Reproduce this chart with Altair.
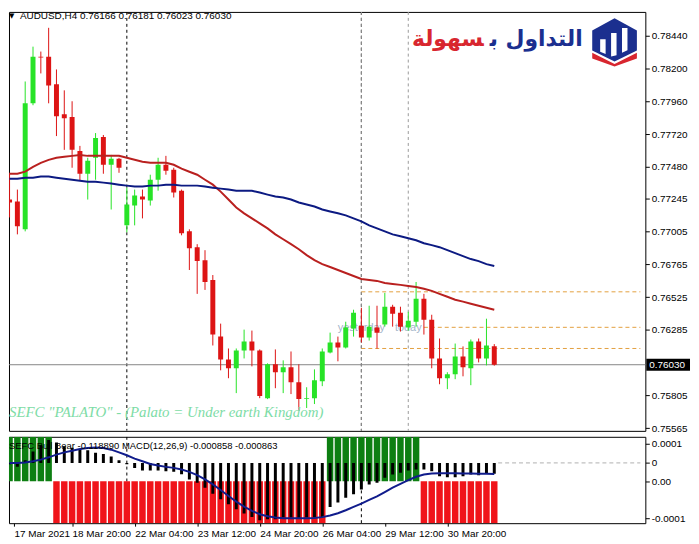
import altair as alt
import pandas as pd

# ---------------- data ----------------
bars = list(range(63))
opens = [0.77240, 0.77225, 0.77022, 0.77945, 0.78287, 0.78287, 0.78084, 0.77865, 0.77844, 0.77596,
         0.77429, 0.77546, 0.77698, 0.77495, 0.77538, 0.77051, 0.77196, 0.77262, 0.77233, 0.77385,
         0.77495, 0.77458, 0.77305, 0.77007, 0.76891, 0.76796, 0.76651, 0.76236, 0.76069, 0.76004,
         0.76135, 0.76200, 0.76135, 0.75785, 0.76033, 0.75975, 0.76011, 0.75902, 0.75778, 0.75785,
         0.75909, 0.76120, 0.76193, 0.76156, 0.76295, 0.76316, 0.76229, 0.76302, 0.76324, 0.76455,
         0.76411, 0.76302, 0.76345, 0.76513, 0.76360, 0.76076, 0.75931, 0.75960, 0.76091, 0.76004,
         0.76200, 0.76076, 0.76166]
highs = [0.77436, 0.77313, 0.78105, 0.78360, 0.78324, 0.78498, 0.78193, 0.78040, 0.77960, 0.77633,
         0.77546, 0.77727, 0.77713, 0.77567, 0.77546, 0.77327, 0.77313, 0.77313, 0.77422, 0.77546,
         0.77560, 0.77473, 0.77313, 0.77022, 0.76913, 0.76869, 0.76687, 0.76331, 0.76149, 0.76149,
         0.76287, 0.76280, 0.76142, 0.76040, 0.76142, 0.76062, 0.76127, 0.76033, 0.75865, 0.75996,
         0.76149, 0.76265, 0.76236, 0.76345, 0.76433, 0.76447, 0.76462, 0.76462, 0.76556, 0.76469,
         0.76455, 0.76418, 0.76636, 0.76549, 0.76396, 0.76222, 0.75975, 0.76185, 0.76164, 0.76215,
         0.76222, 0.76367, 0.76181]
lows = [0.77109, 0.76985, 0.77007, 0.77931, 0.78164, 0.77945, 0.77705, 0.77604, 0.77473, 0.77378,
        0.77240, 0.77385, 0.77429, 0.77167, 0.77436, 0.77000, 0.77051, 0.77102, 0.77196, 0.77305,
        0.77422, 0.77255, 0.76978, 0.76724, 0.76549, 0.76578, 0.76171, 0.75989, 0.75931, 0.75822,
        0.76076, 0.76018, 0.75785, 0.75778, 0.75858, 0.75822, 0.75815, 0.75691, 0.75713, 0.75742,
        0.75873, 0.76113, 0.76055, 0.76149, 0.76236, 0.76193, 0.76207, 0.76149, 0.76309, 0.76309,
        0.76273, 0.76280, 0.76309, 0.76251, 0.76004, 0.75887, 0.75851, 0.75924, 0.75945, 0.75880,
        0.76047, 0.76025, 0.76023]
closes = [0.77218, 0.77044, 0.77945, 0.78287, 0.78280, 0.78076, 0.77851, 0.77836, 0.77604, 0.77429,
          0.77524, 0.77691, 0.77495, 0.77538, 0.77473, 0.77204, 0.77269, 0.77240, 0.77385, 0.77495,
          0.77451, 0.77291, 0.76993, 0.76884, 0.76789, 0.76636, 0.76251, 0.76069, 0.76004, 0.76135,
          0.76200, 0.76135, 0.75800, 0.76033, 0.75975, 0.76011, 0.75902, 0.75778, 0.75785, 0.75916,
          0.76127, 0.76193, 0.76156, 0.76302, 0.76411, 0.76229, 0.76309, 0.76265, 0.76455, 0.76404,
          0.76309, 0.76353, 0.76513, 0.76360, 0.76076, 0.75931, 0.75960, 0.76091, 0.76011, 0.76200,
          0.76076, 0.76171, 0.76030]
ma_red = [0.77429, 0.77429, 0.77444, 0.77480, 0.77509, 0.77531, 0.77546, 0.77553, 0.77560, 0.77567,
          0.77560, 0.77560, 0.77560, 0.77560, 0.77560, 0.77546, 0.77531, 0.77517, 0.77509, 0.77509,
          0.77509, 0.77495, 0.77466, 0.77444, 0.77422, 0.77385, 0.77349, 0.77298, 0.77240, 0.77182,
          0.77139, 0.77102, 0.77066, 0.77029, 0.76985, 0.76949, 0.76913, 0.76876, 0.76833, 0.76796,
          0.76767, 0.76746, 0.76724, 0.76702, 0.76680, 0.76658, 0.76651, 0.76644, 0.76629, 0.76622,
          0.76615, 0.76607, 0.76600, 0.76586, 0.76571, 0.76549, 0.76528, 0.76506, 0.76492, 0.76477,
          0.76462, 0.76447, 0.76433]
ma_blue = [0.77393, 0.77393, 0.77400, 0.77400, 0.77408, 0.77408, 0.77400, 0.77393, 0.77385, 0.77378,
           0.77371, 0.77371, 0.77364, 0.77357, 0.77349, 0.77342, 0.77335, 0.77335, 0.77342, 0.77342,
           0.77349, 0.77349, 0.77342, 0.77342, 0.77342, 0.77335, 0.77327, 0.77320, 0.77313, 0.77305,
           0.77305, 0.77305, 0.77291, 0.77276, 0.77262, 0.77255, 0.77240, 0.77218, 0.77204, 0.77189,
           0.77167, 0.77153, 0.77139, 0.77124, 0.77102, 0.77080, 0.77051, 0.77029, 0.77007, 0.76985,
           0.76971, 0.76956, 0.76942, 0.76920, 0.76906, 0.76891, 0.76869, 0.76847, 0.76826, 0.76804,
           0.76789, 0.76767, 0.76753]
macd_hist = [-0.0001, -0.0003, 0.0002, 0.0009, 0.0014, 0.0018, 0.0016, 0.0013, 0.0012, 0.0011,
             0.0010, 0.0008, 0.0007, 0.0005, 0.0002, -0.0001, -0.0004, -0.0006, -0.0006, -0.0006,
             -0.00065, -0.0007, -0.0009, -0.0013, -0.00156, -0.00195, -0.00242, -0.00286, -0.00325, -0.00364,
             -0.00398, -0.00424, -0.0045, -0.00442, -0.00442, -0.00429, -0.00429, -0.00434, -0.00429, -0.00429,
             -0.00424, -0.00346, -0.00312, -0.00273, -0.00247, -0.00208, -0.00169, -0.00156, -0.00117, -0.00091,
             -0.00078, -0.0006, -0.00052, -0.00052, -0.00065, -0.00104, -0.00112, -0.00112, -0.00104, -0.00091,
             -0.00096, -0.00086, -0.000858]
macd_signal = [0.0, 0.0, 0.00003, 0.00013, 0.00026, 0.00044, 0.00065, 0.00083, 0.00096, 0.00109,
               0.00117, 0.00122, 0.00117, 0.00104, 0.00083, 0.0006, 0.00034, 0.00013, -0.00008, -0.00021,
               -0.00031, -0.00039, -0.00052, -0.0007, -0.00096, -0.0013, -0.00169, -0.00213, -0.0026, -0.00304,
               -0.00343, -0.00377, -0.00403, -0.00419, -0.00429, -0.00434, -0.00434, -0.00434, -0.00434, -0.00432,
               -0.00426, -0.00413, -0.00395, -0.00372, -0.00346, -0.0032, -0.00291, -0.00263, -0.00229, -0.00195,
               -0.00164, -0.00135, -0.00109, -0.00091, -0.00083, -0.00081, -0.00081, -0.00081, -0.00083, -0.00083,
               -0.00085, -0.00086, -0.000863]
bull_bear = [1, 1, 1, 1, 1, 1, -1, -1, -1, -1,
             -1, -1, -1, -1, -1, -1, -1, -1, -1, -1,
             -1, -1, -1, -1, -1, -1, -1, -1, -1, -1,
             -1, -1, -1, -1, -1, -1, -1, -1, -1, -1,
             -1, 1, 1, 1, 1, 1, 1, 1, 1, 1,
             1, 1, 1, -1, -1, -1, -1, -1, -1, -1,
             -1, -1, -1]

price_ticks = [0.78440, 0.78200, 0.77960, 0.77720, 0.77480, 0.77245, 0.77005,
               0.76765, 0.76525, 0.76285, 0.75805, 0.75565]
last_price = 0.76030
last_price_label = "0.76030"
level_prices = [0.76564, 0.76149, 0.76304]
level_start_bars = [45, 45, 53]
separator_bars = [15, 45]
day_bars = [45, 51]
day_names = ["yesterday", "today"]
day_label_price = 0.76302
date_tick_bars = [0, 8, 16, 24, 32, 40, 48, 56]
date_labels = ["17 Mar 2021", "18 Mar 20:00", "22 Mar 04:00", "23 Mar 12:00",
               "24 Mar 20:00", "26 Mar 04:00", "29 Mar 12:00", "30 Mar 20:00"]
sub_tick_values = [0.0015, 0.0, -0.00144, -0.00437]
sub_tick_labels = ["0.0001", "0", "0.00", "-0.0001"]
bb_level = -0.00144

header = "AUDUSD,H4  0.76166 0.76181 0.76023 0.76030"
sub_header = "SEFC Bull Bear -0.118890  MACD(12,26,9) -0.000858 -0.000863"
watermark = 'SEFC "PALATO" - (Palato = Under earth Kingdom)'
logo_blue = "التداول ب\u200d"
logo_red = "\u200dسهولة"

# ---------------- layout / style ----------------
W = 641
H_MAIN = 422
H_SUB = 87
X_DOMAIN = [0.5625, 80.6875]
Y_MAIN = [0.755455, 0.786145]
Y_SUB = [-0.004735, 0.002051]

GREEN = "#27e327"
RED = "#dd1414"
MA_RED = "#b9201f"
MA_BLUE = "#0c1a82"
BB_GREEN = "#0d7f12"
BB_RED = "#f0141a"
FONT = "Liberation Sans"


def label_expr(values, labels):
    expr = "''"
    for v, l in reversed(list(zip(values, labels))):
        expr = f"datum.value == {v} ? '{l}' : {expr}"
    return expr


xs = alt.Scale(domain=X_DOMAIN, nice=False, zero=False)
ys = alt.Scale(domain=Y_MAIN, nice=False, zero=False)
yss = alt.Scale(domain=Y_SUB, nice=False, zero=False)

y_axis = alt.Axis(orient="right", values=price_ticks, format=".5f", title=None,
                  tickSize=4, tickColor="black", labelColor="black", labelFontSize=10,
                  labelFont=FONT, labelPadding=2, domain=False, grid=False,
                  labelOverlap=False, labelFlush=False)

df = pd.DataFrame({"i": bars, "o": opens, "h": highs, "l": lows, "c": closes})
df["col"] = [GREEN if c >= o else RED for o, c in zip(df["o"], df["c"])]
df["top"] = df[["o", "c"]].max(axis=1)
df["bot"] = df[["o", "c"]].min(axis=1)
col = alt.Color("col:N", scale=None)
X = alt.X("i:Q", scale=xs, axis=None)

sep_main = alt.Chart(pd.DataFrame({"i": separator_bars})).mark_rule(
    color="black", strokeDash=[3, 3], strokeWidth=1, clip=True).encode(x=X)
day_lines = alt.Chart(pd.DataFrame({"i": day_bars})).mark_rule(
    color="#9a9a9a", strokeDash=[3, 3], strokeWidth=1, clip=True).encode(x=X)
price_line = alt.Chart(pd.DataFrame({"p": [last_price]})).mark_rule(
    color="#858585", strokeWidth=1).encode(y=alt.Y("p:Q", scale=ys, axis=y_axis))
lev_df = pd.DataFrame({"x": level_start_bars, "x2": [X_DOMAIN[1]] * 3, "p": level_prices})
levels = alt.Chart(lev_df).mark_rule(color="#e3a03f", strokeDash=[4, 3], strokeWidth=1, clip=True).encode(
    x=alt.X("x:Q", scale=xs, axis=None), x2="x2:Q", y=alt.Y("p:Q", scale=ys, axis=y_axis))
day_text = alt.Chart(pd.DataFrame({"i": day_bars, "t": day_names, "p": [day_label_price] * 2})).mark_text(
    font=FONT, fontSize=11, color="#a3b5ca", align="center", baseline="middle").encode(
    x=X, y=alt.Y("p:Q", scale=ys, axis=y_axis), text="t:N")
wicks = alt.Chart(df).mark_rule(strokeWidth=1, clip=True).encode(
    x=X, y=alt.Y("l:Q", scale=ys, axis=y_axis), y2="h:Q", color=col)
bodies = alt.Chart(df).mark_bar(width=5, clip=True).encode(
    x=X, y=alt.Y("bot:Q", scale=ys, axis=y_axis), y2="top:Q", color=col)
ma_df = pd.DataFrame({"i": bars, "red": ma_red, "blue": ma_blue})
line_red = alt.Chart(ma_df).mark_line(color=MA_RED, strokeWidth=2, clip=True).encode(
    x=X, y=alt.Y("red:Q", scale=ys, axis=y_axis))
line_blue = alt.Chart(ma_df).mark_line(color=MA_BLUE, strokeWidth=2, clip=True).encode(
    x=X, y=alt.Y("blue:Q", scale=ys, axis=y_axis))


def text_layer(t, x, y, **kw):
    return alt.Chart(pd.DataFrame({"t": [t]})).mark_text(**kw).encode(
        x=alt.value(x), y=alt.value(y), text="t:N")


tri = text_layer("▼", 0, 4, font="DejaVu Sans", fontSize=7, align="left", baseline="middle", color="black")
head = text_layer(header, 11, 4, font=FONT, fontSize=10, align="left", baseline="middle", color="black")
wm = text_layer(watermark, 0, 403, font="Liberation Serif", fontSize=15, fontStyle="italic",
                align="left", baseline="middle", color="#7ddca6")
logo_r = text_layer(logo_red, 442, 27, font="DejaVu Sans", fontSize=22, fontWeight="bold",
                    align="center", baseline="middle", color="#d8262f")
logo_b = text_layer(logo_blue, 531, 27, font="DejaVu Sans", fontSize=22, fontWeight="bold",
                    align="center", baseline="middle", color="#1b2f8f")


def icon(path, color):
    return alt.Chart(pd.DataFrame({"a": [0]})).mark_point(
        shape=path, filled=True, fill=color, size=2500, strokeWidth=0, opacity=1).encode(
        x=alt.value(610), y=alt.value(30))


icon_navy = icon("M0,-0.95 L0.9,-0.45 L0.9,0.35 L0,0.8 L-0.9,0.35 L-0.9,-0.45 Z", "#1b2f8f")
icon_red = icon("M-0.9,0.45 L0,0.9 L0.9,0.45 L0.9,0.68 L0,1 L-0.9,0.68 Z", "#d8262f")
icon_white = icon("M-0.58,0.4 L-0.58,-0.1 L-0.36,-0.1 L-0.36,0.5 Z "
                  "M-0.14,0.6 L-0.14,-0.35 L0.08,-0.35 L0.08,0.55 Z "
                  "M0.3,0.45 L0.3,-0.55 L0.52,-0.55 L0.52,0.34 Z", "white")

plab_df = pd.DataFrame({"p": [last_price], "t": [last_price_label]})
plab_rect = alt.Chart(plab_df).mark_rect(color="black", yOffset=-6, y2Offset=6).encode(
    x=alt.value(W + 1), x2=alt.value(W + 45), y=alt.Y("p:Q", scale=ys, axis=y_axis), y2="p:Q")
plab_text = alt.Chart(plab_df).mark_text(font=FONT, fontSize=10, color="white", align="left",
                                         baseline="middle").encode(
    x=alt.value(W + 4), y=alt.Y("p:Q", scale=ys, axis=y_axis), text="t:N")

main = alt.layer(sep_main, day_lines, price_line, levels, day_text, wicks, bodies,
                 line_red, line_blue, tri, head, wm, logo_r, logo_b,
                 icon_navy, icon_red, icon_white, plab_rect, plab_text).properties(
    width=W, height=H_MAIN)

# ---------------- sub panel ----------------
x_tick_vals = [max(b, X_DOMAIN[0]) for b in date_tick_bars]
x_axis = alt.Axis(orient="bottom", values=x_tick_vals, labelExpr=label_expr(x_tick_vals, date_labels),
                  title=None, tickSize=3, tickColor="black", labelColor="black", labelFontSize=10,
                  labelFont=FONT, labelAlign="left", labelPadding=2, domain=False, grid=False,
                  labelOverlap=False, labelFlush=False)
sub_axis = alt.Axis(orient="right", values=sub_tick_values,
                    labelExpr=label_expr(sub_tick_values, sub_tick_labels), title=None,
                    tickSize=4, tickColor="black", labelColor="black", labelFontSize=10,
                    labelFont=FONT, labelPadding=2, domain=False, grid=False,
                    labelOverlap=False, labelFlush=False)

XS = alt.X("i:Q", scale=xs, axis=x_axis)
sep_sub = alt.Chart(pd.DataFrame({"i": separator_bars})).mark_rule(
    color="black", strokeDash=[3, 3], strokeWidth=1, clip=True).encode(x=XS)
zero_df = pd.DataFrame({"i": [62.5], "x2": [X_DOMAIN[1]], "v": [0.0]})
zero_line = alt.Chart(zero_df).mark_rule(color="#b0b0b0", strokeDash=[4, 3], strokeWidth=1).encode(
    x=XS, x2="x2:Q", y=alt.Y("v:Q", scale=yss, axis=sub_axis))

bb_df = pd.DataFrame({"i": bars, "col": [BB_GREEN if b > 0 else BB_RED for b in bull_bear]})
bb_df["lo"] = [bb_level if b > 0 else Y_SUB[0] for b in bull_bear]
bb_df["hi"] = [Y_SUB[1] if b > 0 else bb_level for b in bull_bear]
bb = alt.Chart(bb_df).mark_bar(width=6.5, clip=True).encode(
    x=XS, y=alt.Y("lo:Q", scale=yss, axis=sub_axis), y2="hi:Q",
    color=alt.Color("col:N", scale=None))

m_df = pd.DataFrame({"i": bars, "h": macd_hist, "s": macd_signal, "z": [0.0] * len(bars)})
hist = alt.Chart(m_df).mark_bar(width=3, color="black", clip=True).encode(
    x=XS, y=alt.Y("h:Q", scale=yss, axis=sub_axis), y2="z:Q")
sig = alt.Chart(m_df).mark_line(color="#101c8c", strokeWidth=2, clip=True).encode(
    x=XS, y=alt.Y("s:Q", scale=yss, axis=sub_axis))
sub_head = text_layer(sub_header, 0, 9, font=FONT, fontSize=9.5, align="left", baseline="middle",
                      color="black")

sub = alt.layer(sep_sub, zero_line, bb, hist, sig, sub_head).properties(width=W, height=H_SUB)

chart = alt.vconcat(main, sub, spacing=2).properties(
    padding=0, background="white").configure_view(stroke="black", strokeWidth=1)

chart.save("out.html", embed_options={"renderer": "svg", "actions": False})
